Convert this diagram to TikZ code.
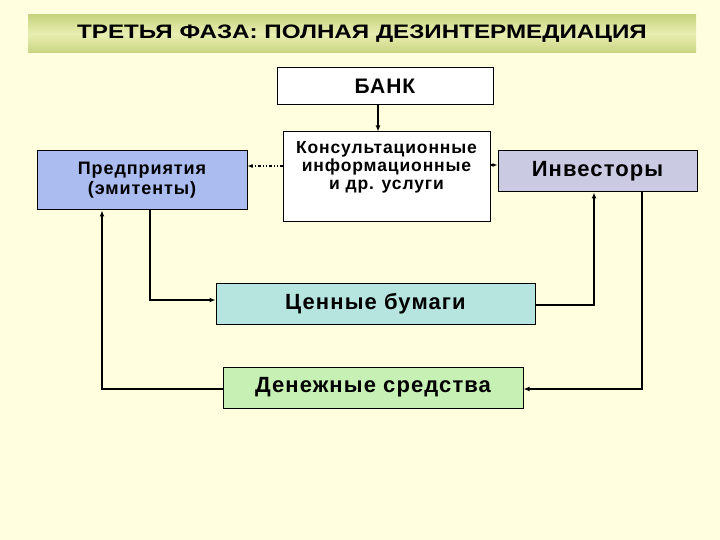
\documentclass[tikz,border=0pt]{standalone}
\usepackage{fontspec}
\setmainfont{Liberation Sans}
\newfontfamily\spfont[LetterSpace=5]{Liberation Sans}
\usetikzlibrary{arrows.meta,calc}
\definecolor{bgc}{RGB}{255,255,223}
\definecolor{predc}{RGB}{170,188,240}
\definecolor{invc}{RGB}{202,202,226}
\definecolor{cenc}{RGB}{182,229,223}
\definecolor{denc}{RGB}{198,240,180}
\definecolor{titleE}{RGB}{200,212,128}
\definecolor{titleM}{RGB}{232,238,178}
\tikzset{
  box/.style={draw=black, line width=1pt, inner sep=0pt, align=center, text=black},
  arr/.style={line width=1.6pt, -{Latex[length=6pt,width=5pt]}},
  dotarr/.style={line width=1.2pt, dash pattern=on 3pt off 2pt on 1pt off 2pt on 1pt off 2pt, -{Latex[length=5pt,width=4pt]}},
  big/.style={font=\spfont\bfseries\fontsize{22}{24}\selectfont},
}
\begin{document}
\begin{tikzpicture}[x=1pt,y=-1pt]
\useasboundingbox (0,0) rectangle (720,540);
\fill[bgc] (0,0) rectangle (720,540);
% title
\node[inner sep=0pt, minimum width=668pt, minimum height=38pt, top color=titleE, bottom color=titleE, middle color=titleM,
      font=\bfseries\fontsize{19.5}{21}\selectfont] (title) at (362,34)
  {\scalebox{1.24}[1]{ТРЕТЬЯ ФАЗА: ПОЛНАЯ ДЕЗИНТЕРМЕДИАЦИЯ}};
% boxes
\node[box, fill=white, minimum width=216pt, minimum height=37pt, font=\spfont\bfseries\fontsize{21}{23}\selectfont] (bank) at (385,86.5)
  {БАНК};
\node[box, fill=white, minimum width=207pt, minimum height=90pt,
      label={[align=center, yshift=10pt, font=\spfont\bfseries\fontsize{17.5}{18}\selectfont]center:Консультационные\\информационные\\и др. услуги}] (kons) at (386.5,177) {};
\node[box, fill=predc, minimum width=210pt, minimum height=59pt, font=\spfont\bfseries\fontsize{18}{20}\selectfont] (pred) at (142,180.5)
  {Предприятия\\(эмитенты)};
\node[box, fill=invc, minimum width=199pt, minimum height=41pt, big] (inv) at (597.5,171.5)
  {Инвесторы};
\node[box, fill=cenc, minimum width=319pt, minimum height=41pt, big] (cen) at (375.5,303.5)
  {Ценные бумаги};
\node[box, fill=denc, minimum width=300pt, minimum height=41pt, big] (den) at (373,387.5)
  {Денежные средства};
% connectors
\draw[arr] ([xshift=-7pt]bank.south) -- ([xshift=-8.5pt]kons.north);
\draw[dotarr] ([yshift=11pt]kons.west) -- ([yshift=14.5pt]pred.east);
\draw[dotarr] ([yshift=12pt]kons.east) -- ([yshift=6.5pt]inv.west);
\draw[arr] ([xshift=8pt]pred.south) |- ([yshift=3.5pt]cen.west);
\draw[arr] ([yshift=-1.5pt]cen.east) -| ([xshift=-3.5pt]inv.south);
\draw[arr] ([xshift=44.5pt]inv.south) |- ([yshift=-1.5pt]den.east);
\draw[arr] ([yshift=-1.5pt]den.west) -| ([xshift=-40pt]pred.south);
\end{tikzpicture}
\end{document}
